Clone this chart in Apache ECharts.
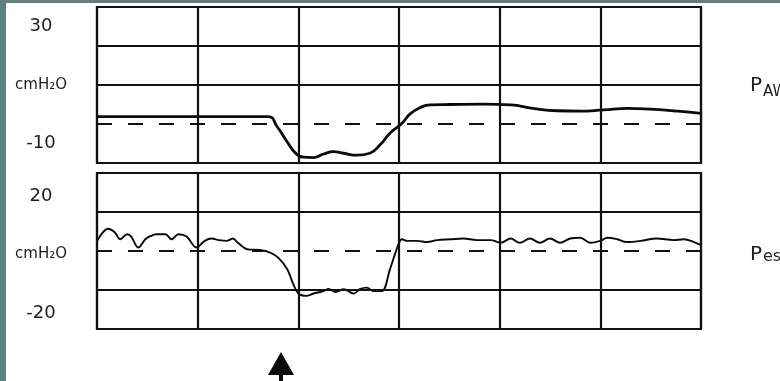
<!DOCTYPE html>
<html>
<head>
<meta charset="utf-8">
<script src="https://cdn.jsdelivr.net/npm/echarts@6/dist/echarts.min.js"></script>
<style>html,body{margin:0;padding:0;background:#fff}#c{width:780px;height:381px}</style>
</head>
<body>
<div id="c"></div>
<script>
// ---- data (time in grid columns, pressure in row units where baseline = 0) ----
const pawTime   = [0, 1.70, 1.79, 1.89, 1.97, 2.05, 2.15, 2.25, 2.35, 2.45, 2.58, 2.71, 2.81, 2.91, 3.03, 3.11, 3.21, 3.31, 3.51, 3.84, 4.11, 4.33, 4.57, 4.80, 5.03, 5.27, 5.50, 5.77, 6.0];
const pawValues = [1.9, 1.9, -0.7, -4.6, -7.4, -8.5, -8.6, -7.7, -7.1, -7.5, -8.0, -7.5, -5.4, -2.4, 0.2, 2.6, 4.2, 4.9, 5.0, 5.1, 4.9, 4.0, 3.4, 3.3, 3.6, 4.0, 3.8, 3.3, 2.7];

const pesTime   = [0, 0.11, 0.18, 0.23, 0.30, 0.34, 0.41, 0.48, 0.53, 0.59, 0.68, 0.74, 0.81, 0.89, 0.99, 1.07, 1.14, 1.21, 1.29, 1.35, 1.40, 1.50, 1.62, 1.72, 1.80, 1.89, 1.95, 2.00, 2.08, 2.15, 2.25, 2.30, 2.37, 2.45, 2.55, 2.61, 2.68, 2.75, 2.83, 2.91, 3.00, 3.03, 3.08, 3.18, 3.28, 3.38, 3.51, 3.64, 3.77, 3.91, 4.01, 4.11, 4.20, 4.30, 4.40, 4.50, 4.60, 4.70, 4.80, 4.90, 5.00, 5.07, 5.17, 5.26, 5.40, 5.56, 5.73, 5.83, 5.93, 6.0];
const pesValues = [2.5, 5.7, 4.7, 3.0, 4.3, 3.7, 0.9, 3.0, 3.8, 4.3, 4.3, 3.0, 4.3, 3.7, 0.9, 2.6, 3.2, 2.8, 2.6, 3.2, 2.1, 0.4, 0.3, -0.4, -1.7, -4.7, -8.5, -10.9, -11.5, -10.9, -10.3, -9.7, -10.5, -9.8, -10.9, -9.8, -9.4, -10.3, -10.3, -4.7, 2.1, 3.0, 2.6, 2.6, 2.3, 2.8, 3.0, 3.2, 2.8, 2.8, 2.1, 3.2, 2.1, 3.2, 2.1, 3.2, 2.1, 3.2, 3.4, 2.1, 2.6, 3.4, 3.0, 2.3, 2.6, 3.2, 2.8, 3.0, 2.3, 1.5];

// tick labels (value on axis -> text)
const topTickValues = [25, 10, -5];
const topTickLabels = ['30', 'cmH₂O', '-10'];
const botTickValues = [15, 0, -15];
const botTickLabels = ['20', 'cmH₂O', '-20'];
const topGridLines = [10, 20];
const botGridLines = [-10, 10];
const baseline = 0;
const traceNames = [['P', 'AW'], ['P', 'es']];

const INK = '#111111';
const TXT = '#1e1e1e';
const FONT = 'DejaVu Sans';

function zip(xs, ys) { return xs.map((x, i) => [x, ys[i]]); }
function labelFormatter(vals, texts) {
  return function (v) {
    const i = vals.indexOf(v);
    if (i < 0) return '';
    return texts[i].indexOf('cm') === 0 ? '{u|' + texts[i] + '}' : '{n|' + texts[i] + '}';
  };
}
function markLines(lines) {
  const data = lines.map(v => ({ yAxis: v, lineStyle: { color: INK, width: 2.2, type: 'solid' } }));
  data.push({ yAxis: baseline, lineStyle: { color: INK, width: 2.2, type: [15, 16] } });
  return { silent: true, symbol: ['none', 'none'], label: { show: false }, emphasis: { disabled: true }, animation: false, data: data };
}
function yAxisFor(idx, min, max, vals, texts, pad) {
  return {
    gridIndex: idx, type: 'value', min: min, max: max, interval: 5,
    axisLine: { show: false }, axisTick: { show: false }, splitLine: { show: false },
    axisLabel: {
      show: true, margin: 56, align: 'center', color: TXT, fontFamily: FONT,
      formatter: labelFormatter(vals, texts),
      rich: {
        n: { fontSize: 18, fontFamily: FONT, color: TXT, padding: pad },
        u: { fontSize: 15, fontFamily: FONT, color: TXT, padding: pad }
      }
    }
  };
}
function xAxisFor(idx) {
  return {
    gridIndex: idx, type: 'value', min: 0, max: 6, interval: 1,
    axisLine: { show: false }, axisTick: { show: false }, axisLabel: { show: false },
    splitLine: { show: true, lineStyle: { color: INK, width: 2.2 } }
  };
}

const chart = echarts.init(document.getElementById('c'), null, { renderer: 'canvas' });
chart.setOption({
  animation: false,
  backgroundColor: '#ffffff',
  grid: [
    { left: 97, right: 79, top: 7, height: 156, show: true, borderColor: INK, borderWidth: 2.2, backgroundColor: 'transparent', containLabel: false, outerBoundsMode: 'none' },
    { left: 97, right: 79, top: 173, height: 156, show: true, borderColor: INK, borderWidth: 2.2, backgroundColor: 'transparent', containLabel: false, outerBoundsMode: 'none' }
  ],
  xAxis: [xAxisFor(0), xAxisFor(1)],
  yAxis: [
    yAxisFor(0, -10, 30, topTickValues, topTickLabels, [0, 0, 0, 0]),
    yAxisFor(1, -20, 20, botTickValues, botTickLabels, [7, 0, 0, 0])
  ],
  series: [
    {
      type: 'line', xAxisIndex: 0, yAxisIndex: 0, data: zip(pawTime, pawValues),
      showSymbol: false, symbol: 'none', smooth: 0.5,
      lineStyle: { color: '#0a0a0a', width: 2.8 }, silent: true,
      markLine: markLines(topGridLines)
    },
    {
      type: 'line', xAxisIndex: 1, yAxisIndex: 1, data: zip(pesTime, pesValues),
      showSymbol: false, symbol: 'none', smooth: 0.35,
      lineStyle: { color: '#0a0a0a', width: 1.9 }, silent: true,
      markLine: markLines(botGridLines)
    }
  ],
  graphic: [
    { type: 'rect', shape: { x: 0, y: 0, width: 6, height: 381 }, style: { fill: '#5d8080' }, silent: true },
    { type: 'rect', shape: { x: 0, y: 0, width: 780, height: 3 }, style: { fill: '#5d8080' }, silent: true },
    { type: 'polygon', shape: { points: [[281, 352], [268, 375], [294, 375]] }, style: { fill: '#0a0a0a' }, silent: true },
    { type: 'rect', shape: { x: 279, y: 372, width: 4, height: 9 }, style: { fill: '#0a0a0a' }, silent: true },
    { type: 'text', x: 750, y: 76, style: { text: traceNames[0][0], font: '20px "DejaVu Sans"', fill: TXT, align: 'left', verticalAlign: 'top' }, silent: true },
    { type: 'text', x: 763, y: 85, style: { text: traceNames[0][1], font: '15px "DejaVu Sans"', fill: TXT, align: 'left', verticalAlign: 'top' }, silent: true },
    { type: 'text', x: 750, y: 245, style: { text: traceNames[1][0], font: '20px "DejaVu Sans"', fill: TXT, align: 'left', verticalAlign: 'top' }, silent: true },
    { type: 'text', x: 763, y: 249, style: { text: traceNames[1][1], font: '16px "DejaVu Sans"', fill: TXT, align: 'left', verticalAlign: 'top' }, silent: true }
  ]
});
</script>
</body>
</html>
